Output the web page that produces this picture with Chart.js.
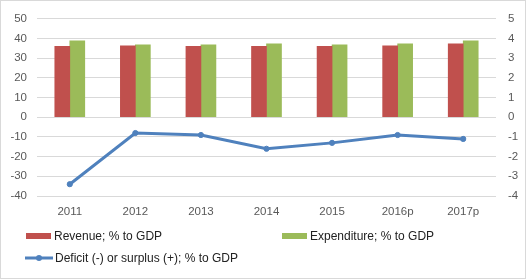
<!DOCTYPE html>
<html>
<head>
<meta charset="utf-8">
<script src="https://cdn.jsdelivr.net/npm/chart.js@4.4.1/dist/chart.umd.min.js"></script>
<style>
  body { margin: 0; background: #fff; }
  .wrap { position: relative; width: 526px; height: 279px; box-sizing: border-box; border: 1px solid #d9d9d9; overflow: hidden; }
  canvas { position: absolute; left: -1px; top: -1px; }
  .legend { position: absolute; font-family: "Liberation Sans", Arial, sans-serif; font-size: 12px; color: #222; white-space: nowrap; }
  .legend .sw { display: inline-block; vertical-align: middle; }
  .item { position: absolute; display: flex; align-items: center; }
</style>
</head>
<body>
<div class="wrap">
  <canvas id="chart" width="526" height="279"></canvas>
  <div class="legend">
    <div class="item" style="left:25px;top:228px"><span class="sw" style="width:25px;height:6px;background:#c0504d;margin-right:3px"></span>Revenue; % to GDP</div>
    <div class="item" style="left:281px;top:228px"><span class="sw" style="width:25px;height:6px;background:#9bbb59;margin-right:3px"></span>Expenditure; % to GDP</div>
    <div class="item" style="left:24px;top:250px"><svg width="28" height="10" style="margin-right:2px"><line x1="0" y1="5" x2="28" y2="5" stroke="#4f81bd" stroke-width="3"/><circle cx="14" cy="5" r="3" fill="#4f81bd"/></svg>Deficit (-) or surplus (+); % to GDP</div>
  </div>
</div>
<script>
const years = ['2011', '2012', '2013', '2014', '2015', '2016p', '2017p'];
const revenue = [36, 36.3, 36, 36, 36, 36.3, 37.3];
const expenditure = [38.8, 36.8, 36.8, 37.3, 36.8, 37.3, 38.8];
const balance = [-3.4, -0.8, -0.9, -1.6, -1.3, -0.9, -1.1];

const tickFont = { family: '"Liberation Sans", Arial, sans-serif', size: 11.5 };

new Chart(document.getElementById('chart'), {
  data: {
    labels: years,
    datasets: [
      {
        type: 'line',
        label: 'Deficit (-) or surplus (+); % to GDP',
        data: balance,
        yAxisID: 'y1',
        borderColor: '#4f81bd',
        backgroundColor: '#4f81bd',
        borderWidth: 3,
        pointRadius: 2.6,
        pointBorderWidth: 1,
        pointHoverRadius: 2.6,
        tension: 0,
        order: 0
      },
      {
        type: 'bar',
        label: 'Revenue; % to GDP',
        data: revenue,
        yAxisID: 'y',
        backgroundColor: '#c0504d',
        barThickness: 15,
        categoryPercentage: 0.58,
        order: 1
      },
      {
        type: 'bar',
        label: 'Expenditure; % to GDP',
        data: expenditure,
        yAxisID: 'y',
        backgroundColor: '#9bbb59',
        barThickness: 15,
        categoryPercentage: 0.58,
        order: 1
      }
    ]
  },
  options: {
    responsive: false,
    animation: false,
    layout: { padding: { top: 14, bottom: 0, left: 0, right: 0 } },
    plugins: { legend: { display: false }, tooltip: { enabled: false } },
    scales: {
      x: {
        grid: { display: false, drawTicks: false },
        border: { display: false },
        ticks: { color: '#595959', font: tickFont, padding: 9 },
        afterFit: (s) => { s.height = 83; }
      },
      y: {
        position: 'left',
        min: -40,
        max: 50,
        ticks: { stepSize: 10, color: '#595959', font: tickFont, padding: 10 },
        grid: { color: '#d9d9d9', drawTicks: false },
        border: { display: false },
        afterFit: (s) => { s.width = 37; }
      },
      y1: {
        position: 'right',
        min: -4,
        max: 5,
        ticks: { stepSize: 1, color: '#595959', font: tickFont, padding: 12 },
        grid: { display: false, drawTicks: false },
        border: { display: false },
        afterFit: (s) => { s.width = 30; }
      }
    }
  }
});
</script>
</body>
</html>
